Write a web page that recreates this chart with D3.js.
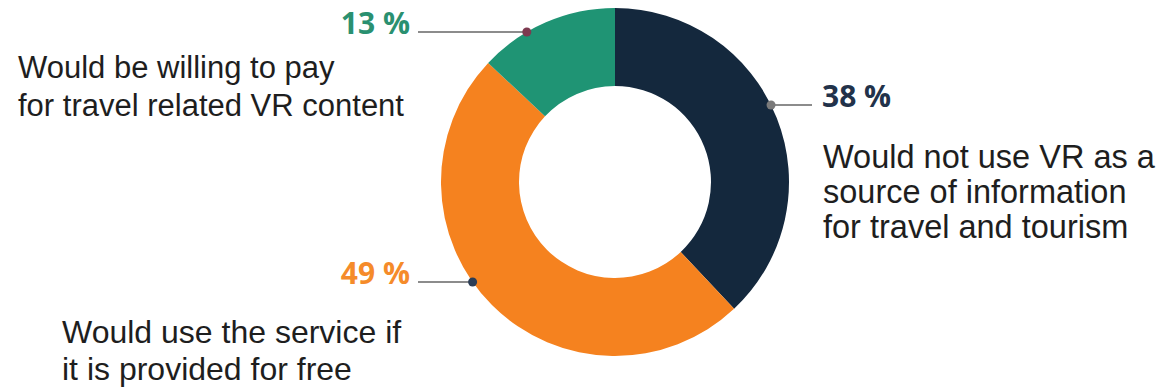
<!DOCTYPE html>
<html>
<head>
<meta charset="utf-8">
<script src="https://cdn.jsdelivr.net/npm/d3@7"></script>
<style>
  html, body { margin: 0; padding: 0; background: #fff; }
  svg { display: block; }
</style>
</head>
<body>
<svg id="chart" width="1160" height="390"></svg>
<script>
// Survey answers, in drawing order clockwise from 12 o'clock
const categories = ["not_use", "free", "pay"];
const values = [38, 49, 13];
const valueLabels = ["38 %", "49 %", "13 %"];
const descriptions = [
  ["Would not use VR as a", "source of information", "for travel and tourism"],
  ["Would use the service if", "it is provided for free"],
  ["Would be willing to pay", "for travel related VR content"]
];

const sliceColors = ["#14283d", "#f5821f", "#1f9474"];
const labelColors = ["#22324a", "#f58b2a", "#2a9070"];
const dotColors = ["#7a7a7a", "#2c3d55", "#7d3a50"];

const svg = d3.select("#chart");
const cx = 615, cy = 182;
const outerR = 174, innerR = 96;

const pie = d3.pie().sort(null).value(d => d)
  .startAngle(0).endAngle(2 * Math.PI);
const arc = d3.arc().innerRadius(innerR).outerRadius(outerR);
const color = d3.scaleOrdinal().domain(categories).range(sliceColors);

const g = svg.append("g").attr("transform", `translate(${cx},${cy})`);
const arcs = pie(values);

g.selectAll("path.slice")
  .data(arcs)
  .join("path")
  .attr("class", "slice")
  .attr("d", arc)
  .attr("fill", (d, i) => color(categories[i]));

// Callout layout: leader line height, side, text anchor positions
const callouts = [
  { lineY: 105, side: 1, lineEnd: 812, valueX: 822, descX: 823, descY: 168, lh: 35, fs: 32.5 },
  { lineY: 282, side: -1, lineEnd: 418, valueX: 410, descX: 62, descY: 343, lh: 37, fs: 32 },
  { lineY: 32, side: -1, lineEnd: 418, valueX: 410, descX: 18, descY: 78, lh: 38, fs: 31 }
];

callouts.forEach((c, i) => {
  const dy = c.lineY - cy;
  const dotX = cx + c.side * Math.sqrt(outerR * outerR - dy * dy);

  svg.append("line")
    .attr("x1", c.lineEnd).attr("x2", dotX)
    .attr("y1", c.lineY).attr("y2", c.lineY)
    .attr("stroke", "#8c8c8c").attr("stroke-width", 2);

  svg.append("circle")
    .attr("cx", dotX).attr("cy", c.lineY).attr("r", 4.5)
    .attr("fill", dotColors[i]);

  svg.append("text")
    .attr("x", c.valueX).attr("y", c.lineY + 2)
    .attr("text-anchor", c.side > 0 ? "start" : "end")
    .attr("font-family", "'Open Sans', sans-serif")
    .attr("font-weight", 700)
    .attr("font-size", 30)
    .attr("fill", labelColors[i])
    .text(valueLabels[i]);

  const t = svg.append("text")
    .attr("font-family", "'Liberation Sans', Arial, sans-serif")
    .attr("font-size", c.fs)
    .attr("fill", "#1e1e1e");
  descriptions[i].forEach((line, k) => {
    t.append("tspan")
      .attr("x", c.descX)
      .attr("y", c.descY + k * c.lh)
      .text(line);
  });
});
</script>
</body>
</html>
